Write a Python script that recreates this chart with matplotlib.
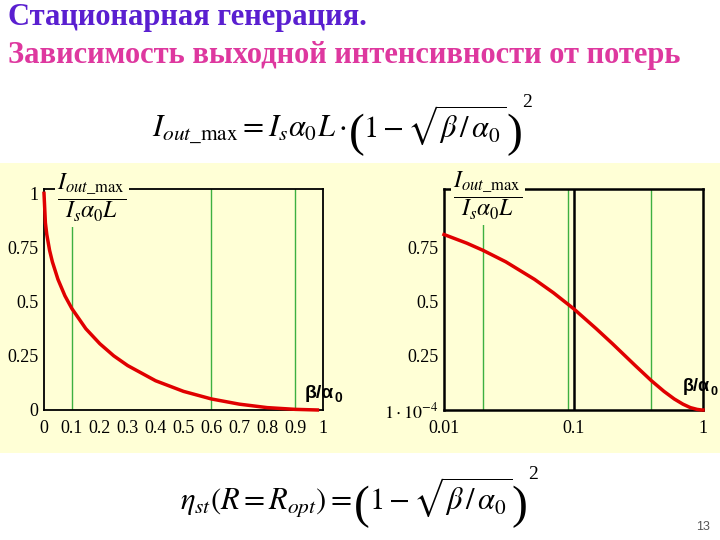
#!/usr/bin/env python3
"""Slide: stationary generation, output intensity vs losses."""

import matplotlib
matplotlib.use("Agg")
import matplotlib.pyplot as plt
from matplotlib.patches import Rectangle

plt.rcParams["mathtext.fontset"] = "stix"
plt.rcParams["font.family"] = ["Liberation Serif", "DejaVu Serif"]

# Curve values (beta/alpha0 -> I_out_max / (I_s alpha0 L))
lin_x = [0.0, 0.005, 0.01, 0.02, 0.03, 0.05, 0.075, 0.1, 0.15, 0.2, 0.25,
         0.3, 0.4, 0.5, 0.6, 0.7, 0.8, 0.9, 0.98]
lin_y = [1.0, 0.864, 0.81, 0.737, 0.684, 0.603, 0.527, 0.468, 0.375, 0.306, 0.25,
         0.205, 0.135, 0.086, 0.051, 0.027, 0.011, 0.003, 0.0001]

log_x = [0.01, 0.015, 0.02, 0.03, 0.05, 0.07, 0.1, 0.15, 0.2, 0.3, 0.4,
         0.5, 0.6, 0.7, 0.8, 0.9, 0.97, 1.0]
log_y = [0.81, 0.77, 0.737, 0.684, 0.603, 0.541, 0.468, 0.375, 0.306, 0.205, 0.135,
         0.086, 0.051, 0.027, 0.011, 0.003, 0.0002, 0.0001]

# Marker lines
lin_green = [0.1, 0.6, 0.9]
log_green = [0.02, 0.09, 0.4]
log_black = [0.1]

lin_xticks = [0, 0.1, 0.2, 0.3, 0.4, 0.5, 0.6, 0.7, 0.8, 0.9, 1]
lin_xlabels = ["0", "0.1", "0.2", "0.3", "0.4", "0.5", "0.6", "0.7", "0.8", "0.9", "1"]
lin_yticks = [0, 0.25, 0.5, 0.75, 1]
lin_ylabels = ["0", "0.25", "0.5", "0.75", "1"]
log_xticks = [0.01, 0.1, 1]
log_xlabels = ["0.01", "0.1", "1"]
log_yticks = [1e-4, 0.25, 0.5, 0.75]
log_ylabels = [r"$1\cdot10^{-4}$", "0.25", "0.5", "0.75"]

BG = "#FFFFD6"
RED = "#E00000"
GREEN = "#3DB041"
SANS = ["Liberation Sans", "DejaVu Sans"]

fig = plt.figure(figsize=(7.2, 5.4), dpi=100)
fig.patch.set_facecolor("white")
fig.patches.append(Rectangle((0, 1 - 453 / 540), 1, 290 / 540, transform=fig.transFigure,
                             facecolor=BG, edgecolor="none", zorder=-10))
renderer = fig.canvas.get_renderer()


def px(x, y):
    return x / 720, 1 - y / 540


def place(pieces, x, base, **kw):
    """Write text pieces left to right: (text, fontsize, dy, gap)."""
    for s, size, dy, gap in pieces:
        t = fig.text(*px(x, base + dy), s, fontsize=size, ha="left", va="baseline", **kw)
        bb = t.get_window_extent(renderer)
        x += bb.width + gap


# Titles
fig.text(*px(8, 25), "Стационарная генерация.", fontsize=22, fontweight="bold",
         color="#5A1FD0", ha="left", va="baseline")
fig.text(*px(8, 63), "Зависимость выходной интенсивности от потерь", fontsize=22,
         fontweight="bold", color="#DE389F", ha="left", va="baseline")

# Formulas
tail = [("(", 34, 9, -1),
        (r"$1-\sqrt{\beta\,/\,\alpha_0}$", 22, 0, 0),
        (")", 34, 9, 0),
        ("2", 14, -30, 0)]
place([(r"$I_{out\_\mathrm{max}} = I_s\alpha_0 L\cdot$", 22, 0, 2)] + tail, 152, 137)
place([(r"$\eta_{st}(R = R_{opt}) =$", 22, 0, 2)] + tail, 180, 509)
fig.text(*px(703, 527), "13", fontsize=9, color="#555555", ha="center", va="center",
         family=SANS)

frac = r"$\dfrac{I_{out\_\mathrm{max}}}{I_s\alpha_0 L}$"


def style_axes(ax, lw):
    ax.set_facecolor("none")
    for s in ax.spines.values():
        s.set_color("black")
        s.set_linewidth(lw)
    ax.tick_params(length=0, labelsize=13)
    ax.tick_params(axis="x", pad=7)
    ax.tick_params(axis="y", pad=4)


# Left: linear x
ax1 = fig.add_axes([44 / 720, 1 - 410 / 540, 279 / 720, 221 / 540])
style_axes(ax1, 1.3)
for gx in lin_green:
    ax1.axvline(gx, color=GREEN, lw=1.0, zorder=1)
ax1.plot(lin_x, lin_y, color=RED, lw=2.5, zorder=3, clip_on=False)
ax1.set_xlim(0, 1)
ax1.set_ylim(0, 1.02)
ax1.set_xticks(lin_xticks, lin_xlabels)
ax1.set_yticks(lin_yticks, lin_ylabels)
fig.text(*px(92, 198), frac, fontsize=17, ha="center", va="center", zorder=5,
         bbox=dict(facecolor=BG, edgecolor="none", pad=2))
place([("β/α", 14, 0, 0), ("0", 10, 4, 0)], 305, 398, fontweight="bold", family=SANS)

# Right: log x
ax2 = fig.add_axes([444 / 720, 1 - 410 / 540, 259 / 720, 221 / 540])
style_axes(ax2, 1.8)
ax2.set_xscale("log")
for gx in log_green:
    ax2.axvline(gx, color=GREEN, lw=1.0, zorder=1)
for bx in log_black:
    ax2.axvline(bx, color="black", lw=1.8, zorder=2)
ax2.plot(log_x, log_y, color=RED, lw=2.5, zorder=3, clip_on=False)
ax2.set_xlim(0.01, 1)
ax2.set_ylim(1e-4, 1.02)
ax2.set_xticks(log_xticks, log_xlabels)
ax2.minorticks_off()
ax2.set_yticks(log_yticks, log_ylabels)
fig.text(*px(488, 196), frac, fontsize=17, ha="center", va="center", zorder=5,
         bbox=dict(facecolor=BG, edgecolor="none", pad=2))
place([("β/α", 13, 0, 0), ("0", 9, 4, 0)], 683, 391, fontweight="bold", family=SANS)

fig.savefig("out.png", dpi=100, facecolor=fig.get_facecolor())
